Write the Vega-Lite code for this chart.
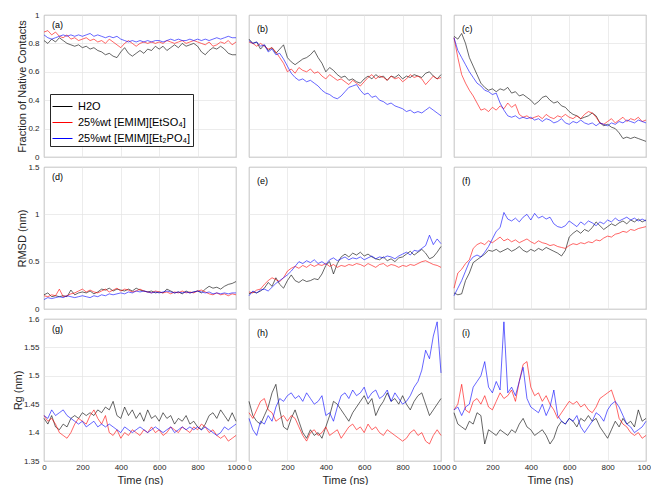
{
"$schema": "https://vega.github.io/schema/vega-lite/v6.json",
"background": "white",
"padding": {"left": 12, "top": 10, "right": 5, "bottom": 2},
"bounds": "flush",
"columns": 3,
"spacing": {"row": 10, "column": 13},
"datasets": {"d": [
{"p":"a","s":"w","t":0,"v":0.82},{"p":"a","s":"w","t":20,"v":0.80},{"p":"a","s":"w","t":40,"v":0.83},{"p":"a","s":"w","t":60,"v":0.81},{"p":"a","s":"w","t":80,"v":0.84},{"p":"a","s":"w","t":100,"v":0.82},{"p":"a","s":"w","t":120,"v":0.80},{"p":"a","s":"w","t":140,"v":0.79},{"p":"a","s":"w","t":160,"v":0.78},{"p":"a","s":"w","t":180,"v":0.79},{"p":"a","s":"w","t":200,"v":0.77},{"p":"a","s":"w","t":220,"v":0.78},{"p":"a","s":"w","t":240,"v":0.76},{"p":"a","s":"w","t":260,"v":0.77},{"p":"a","s":"w","t":280,"v":0.75},{"p":"a","s":"w","t":300,"v":0.74},{"p":"a","s":"w","t":320,"v":0.72},{"p":"a","s":"w","t":340,"v":0.73},{"p":"a","s":"w","t":360,"v":0.71},{"p":"a","s":"w","t":380,"v":0.70},{"p":"a","s":"w","t":400,"v":0.74},{"p":"a","s":"w","t":420,"v":0.77},{"p":"a","s":"w","t":440,"v":0.73},{"p":"a","s":"w","t":460,"v":0.71},{"p":"a","s":"w","t":480,"v":0.73},{"p":"a","s":"w","t":500,"v":0.75},{"p":"a","s":"w","t":520,"v":0.73},{"p":"a","s":"w","t":540,"v":0.76},{"p":"a","s":"w","t":560,"v":0.75},{"p":"a","s":"w","t":580,"v":0.78},{"p":"a","s":"w","t":600,"v":0.76},{"p":"a","s":"w","t":620,"v":0.78},{"p":"a","s":"w","t":640,"v":0.75},{"p":"a","s":"w","t":660,"v":0.77},{"p":"a","s":"w","t":680,"v":0.79},{"p":"a","s":"w","t":700,"v":0.77},{"p":"a","s":"w","t":720,"v":0.80},{"p":"a","s":"w","t":740,"v":0.78},{"p":"a","s":"w","t":760,"v":0.79},{"p":"a","s":"w","t":780,"v":0.80},{"p":"a","s":"w","t":800,"v":0.78},{"p":"a","s":"w","t":820,"v":0.74},{"p":"a","s":"w","t":840,"v":0.72},{"p":"a","s":"w","t":860,"v":0.75},{"p":"a","s":"w","t":880,"v":0.77},{"p":"a","s":"w","t":900,"v":0.76},{"p":"a","s":"w","t":920,"v":0.78},{"p":"a","s":"w","t":940,"v":0.76},{"p":"a","s":"w","t":960,"v":0.73},{"p":"a","s":"w","t":980,"v":0.72},{"p":"a","s":"w","t":1000,"v":0.72},
{"p":"a","s":"e","t":0,"v":0.88},{"p":"a","s":"e","t":20,"v":0.89},{"p":"a","s":"e","t":40,"v":0.86},{"p":"a","s":"e","t":60,"v":0.88},{"p":"a","s":"e","t":80,"v":0.85},{"p":"a","s":"e","t":100,"v":0.84},{"p":"a","s":"e","t":120,"v":0.86},{"p":"a","s":"e","t":140,"v":0.83},{"p":"a","s":"e","t":160,"v":0.84},{"p":"a","s":"e","t":180,"v":0.82},{"p":"a","s":"e","t":200,"v":0.83},{"p":"a","s":"e","t":220,"v":0.84},{"p":"a","s":"e","t":240,"v":0.82},{"p":"a","s":"e","t":260,"v":0.83},{"p":"a","s":"e","t":280,"v":0.81},{"p":"a","s":"e","t":300,"v":0.82},{"p":"a","s":"e","t":320,"v":0.80},{"p":"a","s":"e","t":340,"v":0.83},{"p":"a","s":"e","t":360,"v":0.81},{"p":"a","s":"e","t":380,"v":0.79},{"p":"a","s":"e","t":400,"v":0.77},{"p":"a","s":"e","t":420,"v":0.80},{"p":"a","s":"e","t":440,"v":0.82},{"p":"a","s":"e","t":460,"v":0.80},{"p":"a","s":"e","t":480,"v":0.78},{"p":"a","s":"e","t":500,"v":0.80},{"p":"a","s":"e","t":520,"v":0.81},{"p":"a","s":"e","t":540,"v":0.80},{"p":"a","s":"e","t":560,"v":0.81},{"p":"a","s":"e","t":580,"v":0.80},{"p":"a","s":"e","t":600,"v":0.81},{"p":"a","s":"e","t":620,"v":0.80},{"p":"a","s":"e","t":640,"v":0.82},{"p":"a","s":"e","t":660,"v":0.81},{"p":"a","s":"e","t":680,"v":0.80},{"p":"a","s":"e","t":700,"v":0.81},{"p":"a","s":"e","t":720,"v":0.82},{"p":"a","s":"e","t":740,"v":0.80},{"p":"a","s":"e","t":760,"v":0.81},{"p":"a","s":"e","t":780,"v":0.82},{"p":"a","s":"e","t":800,"v":0.81},{"p":"a","s":"e","t":820,"v":0.80},{"p":"a","s":"e","t":840,"v":0.79},{"p":"a","s":"e","t":860,"v":0.81},{"p":"a","s":"e","t":880,"v":0.78},{"p":"a","s":"e","t":900,"v":0.79},{"p":"a","s":"e","t":920,"v":0.81},{"p":"a","s":"e","t":940,"v":0.80},{"p":"a","s":"e","t":960,"v":0.82},{"p":"a","s":"e","t":980,"v":0.79},{"p":"a","s":"e","t":1000,"v":0.81},
{"p":"a","s":"b","t":0,"v":0.86},{"p":"a","s":"b","t":20,"v":0.84},{"p":"a","s":"b","t":40,"v":0.83},{"p":"a","s":"b","t":60,"v":0.84},{"p":"a","s":"b","t":80,"v":0.85},{"p":"a","s":"b","t":100,"v":0.86},{"p":"a","s":"b","t":120,"v":0.85},{"p":"a","s":"b","t":140,"v":0.86},{"p":"a","s":"b","t":160,"v":0.85},{"p":"a","s":"b","t":180,"v":0.86},{"p":"a","s":"b","t":200,"v":0.85},{"p":"a","s":"b","t":220,"v":0.86},{"p":"a","s":"b","t":240,"v":0.87},{"p":"a","s":"b","t":260,"v":0.85},{"p":"a","s":"b","t":280,"v":0.86},{"p":"a","s":"b","t":300,"v":0.85},{"p":"a","s":"b","t":320,"v":0.84},{"p":"a","s":"b","t":340,"v":0.85},{"p":"a","s":"b","t":360,"v":0.84},{"p":"a","s":"b","t":380,"v":0.85},{"p":"a","s":"b","t":400,"v":0.83},{"p":"a","s":"b","t":420,"v":0.82},{"p":"a","s":"b","t":440,"v":0.81},{"p":"a","s":"b","t":460,"v":0.82},{"p":"a","s":"b","t":480,"v":0.81},{"p":"a","s":"b","t":500,"v":0.82},{"p":"a","s":"b","t":520,"v":0.81},{"p":"a","s":"b","t":540,"v":0.82},{"p":"a","s":"b","t":560,"v":0.81},{"p":"a","s":"b","t":580,"v":0.82},{"p":"a","s":"b","t":600,"v":0.82},{"p":"a","s":"b","t":620,"v":0.81},{"p":"a","s":"b","t":640,"v":0.82},{"p":"a","s":"b","t":660,"v":0.83},{"p":"a","s":"b","t":680,"v":0.82},{"p":"a","s":"b","t":700,"v":0.83},{"p":"a","s":"b","t":720,"v":0.82},{"p":"a","s":"b","t":740,"v":0.82},{"p":"a","s":"b","t":760,"v":0.83},{"p":"a","s":"b","t":780,"v":0.82},{"p":"a","s":"b","t":800,"v":0.83},{"p":"a","s":"b","t":820,"v":0.82},{"p":"a","s":"b","t":840,"v":0.83},{"p":"a","s":"b","t":860,"v":0.82},{"p":"a","s":"b","t":880,"v":0.83},{"p":"a","s":"b","t":900,"v":0.84},{"p":"a","s":"b","t":920,"v":0.83},{"p":"a","s":"b","t":940,"v":0.84},{"p":"a","s":"b","t":960,"v":0.85},{"p":"a","s":"b","t":980,"v":0.84},{"p":"a","s":"b","t":1000,"v":0.84},
{"p":"b","s":"w","t":0,"v":0.83},{"p":"b","s":"w","t":20,"v":0.80},{"p":"b","s":"w","t":40,"v":0.81},{"p":"b","s":"w","t":60,"v":0.76},{"p":"b","s":"w","t":80,"v":0.79},{"p":"b","s":"w","t":100,"v":0.75},{"p":"b","s":"w","t":120,"v":0.77},{"p":"b","s":"w","t":140,"v":0.73},{"p":"b","s":"w","t":160,"v":0.76},{"p":"b","s":"w","t":180,"v":0.79},{"p":"b","s":"w","t":200,"v":0.70},{"p":"b","s":"w","t":220,"v":0.67},{"p":"b","s":"w","t":240,"v":0.65},{"p":"b","s":"w","t":260,"v":0.67},{"p":"b","s":"w","t":280,"v":0.69},{"p":"b","s":"w","t":300,"v":0.70},{"p":"b","s":"w","t":320,"v":0.72},{"p":"b","s":"w","t":340,"v":0.75},{"p":"b","s":"w","t":360,"v":0.70},{"p":"b","s":"w","t":380,"v":0.66},{"p":"b","s":"w","t":400,"v":0.60},{"p":"b","s":"w","t":420,"v":0.63},{"p":"b","s":"w","t":440,"v":0.61},{"p":"b","s":"w","t":460,"v":0.58},{"p":"b","s":"w","t":480,"v":0.56},{"p":"b","s":"w","t":500,"v":0.57},{"p":"b","s":"w","t":520,"v":0.54},{"p":"b","s":"w","t":540,"v":0.55},{"p":"b","s":"w","t":560,"v":0.53},{"p":"b","s":"w","t":580,"v":0.52},{"p":"b","s":"w","t":600,"v":0.55},{"p":"b","s":"w","t":620,"v":0.57},{"p":"b","s":"w","t":640,"v":0.55},{"p":"b","s":"w","t":660,"v":0.58},{"p":"b","s":"w","t":680,"v":0.56},{"p":"b","s":"w","t":700,"v":0.57},{"p":"b","s":"w","t":720,"v":0.54},{"p":"b","s":"w","t":740,"v":0.57},{"p":"b","s":"w","t":760,"v":0.56},{"p":"b","s":"w","t":780,"v":0.58},{"p":"b","s":"w","t":800,"v":0.55},{"p":"b","s":"w","t":820,"v":0.57},{"p":"b","s":"w","t":840,"v":0.56},{"p":"b","s":"w","t":860,"v":0.58},{"p":"b","s":"w","t":880,"v":0.57},{"p":"b","s":"w","t":900,"v":0.56},{"p":"b","s":"w","t":920,"v":0.59},{"p":"b","s":"w","t":940,"v":0.60},{"p":"b","s":"w","t":960,"v":0.57},{"p":"b","s":"w","t":980,"v":0.55},{"p":"b","s":"w","t":1000,"v":0.58},
{"p":"b","s":"e","t":0,"v":0.81},{"p":"b","s":"e","t":20,"v":0.80},{"p":"b","s":"e","t":40,"v":0.78},{"p":"b","s":"e","t":60,"v":0.80},{"p":"b","s":"e","t":80,"v":0.78},{"p":"b","s":"e","t":100,"v":0.76},{"p":"b","s":"e","t":120,"v":0.77},{"p":"b","s":"e","t":140,"v":0.74},{"p":"b","s":"e","t":160,"v":0.70},{"p":"b","s":"e","t":180,"v":0.66},{"p":"b","s":"e","t":200,"v":0.60},{"p":"b","s":"e","t":220,"v":0.62},{"p":"b","s":"e","t":240,"v":0.59},{"p":"b","s":"e","t":260,"v":0.63},{"p":"b","s":"e","t":280,"v":0.61},{"p":"b","s":"e","t":300,"v":0.60},{"p":"b","s":"e","t":320,"v":0.62},{"p":"b","s":"e","t":340,"v":0.59},{"p":"b","s":"e","t":360,"v":0.60},{"p":"b","s":"e","t":380,"v":0.57},{"p":"b","s":"e","t":400,"v":0.55},{"p":"b","s":"e","t":420,"v":0.58},{"p":"b","s":"e","t":440,"v":0.56},{"p":"b","s":"e","t":460,"v":0.54},{"p":"b","s":"e","t":480,"v":0.55},{"p":"b","s":"e","t":500,"v":0.53},{"p":"b","s":"e","t":520,"v":0.51},{"p":"b","s":"e","t":540,"v":0.54},{"p":"b","s":"e","t":560,"v":0.52},{"p":"b","s":"e","t":580,"v":0.50},{"p":"b","s":"e","t":600,"v":0.53},{"p":"b","s":"e","t":620,"v":0.56},{"p":"b","s":"e","t":640,"v":0.58},{"p":"b","s":"e","t":660,"v":0.55},{"p":"b","s":"e","t":680,"v":0.57},{"p":"b","s":"e","t":700,"v":0.56},{"p":"b","s":"e","t":720,"v":0.54},{"p":"b","s":"e","t":740,"v":0.57},{"p":"b","s":"e","t":760,"v":0.55},{"p":"b","s":"e","t":780,"v":0.56},{"p":"b","s":"e","t":800,"v":0.53},{"p":"b","s":"e","t":820,"v":0.55},{"p":"b","s":"e","t":840,"v":0.58},{"p":"b","s":"e","t":860,"v":0.56},{"p":"b","s":"e","t":880,"v":0.57},{"p":"b","s":"e","t":900,"v":0.55},{"p":"b","s":"e","t":920,"v":0.51},{"p":"b","s":"e","t":940,"v":0.54},{"p":"b","s":"e","t":960,"v":0.57},{"p":"b","s":"e","t":980,"v":0.55},{"p":"b","s":"e","t":1000,"v":0.56},
{"p":"b","s":"b","t":0,"v":0.82},{"p":"b","s":"b","t":20,"v":0.80},{"p":"b","s":"b","t":40,"v":0.81},{"p":"b","s":"b","t":60,"v":0.78},{"p":"b","s":"b","t":80,"v":0.79},{"p":"b","s":"b","t":100,"v":0.74},{"p":"b","s":"b","t":120,"v":0.76},{"p":"b","s":"b","t":140,"v":0.72},{"p":"b","s":"b","t":160,"v":0.73},{"p":"b","s":"b","t":180,"v":0.69},{"p":"b","s":"b","t":200,"v":0.64},{"p":"b","s":"b","t":220,"v":0.59},{"p":"b","s":"b","t":240,"v":0.56},{"p":"b","s":"b","t":260,"v":0.54},{"p":"b","s":"b","t":280,"v":0.55},{"p":"b","s":"b","t":300,"v":0.53},{"p":"b","s":"b","t":320,"v":0.54},{"p":"b","s":"b","t":340,"v":0.52},{"p":"b","s":"b","t":360,"v":0.50},{"p":"b","s":"b","t":380,"v":0.47},{"p":"b","s":"b","t":400,"v":0.45},{"p":"b","s":"b","t":420,"v":0.44},{"p":"b","s":"b","t":440,"v":0.42},{"p":"b","s":"b","t":460,"v":0.41},{"p":"b","s":"b","t":480,"v":0.43},{"p":"b","s":"b","t":500,"v":0.46},{"p":"b","s":"b","t":520,"v":0.49},{"p":"b","s":"b","t":540,"v":0.50},{"p":"b","s":"b","t":560,"v":0.51},{"p":"b","s":"b","t":580,"v":0.47},{"p":"b","s":"b","t":600,"v":0.44},{"p":"b","s":"b","t":620,"v":0.45},{"p":"b","s":"b","t":640,"v":0.42},{"p":"b","s":"b","t":660,"v":0.43},{"p":"b","s":"b","t":680,"v":0.40},{"p":"b","s":"b","t":700,"v":0.39},{"p":"b","s":"b","t":720,"v":0.37},{"p":"b","s":"b","t":740,"v":0.38},{"p":"b","s":"b","t":760,"v":0.36},{"p":"b","s":"b","t":780,"v":0.35},{"p":"b","s":"b","t":800,"v":0.34},{"p":"b","s":"b","t":820,"v":0.32},{"p":"b","s":"b","t":840,"v":0.33},{"p":"b","s":"b","t":860,"v":0.31},{"p":"b","s":"b","t":880,"v":0.32},{"p":"b","s":"b","t":900,"v":0.31},{"p":"b","s":"b","t":920,"v":0.33},{"p":"b","s":"b","t":940,"v":0.35},{"p":"b","s":"b","t":960,"v":0.33},{"p":"b","s":"b","t":980,"v":0.31},{"p":"b","s":"b","t":1000,"v":0.29},
{"p":"c","s":"w","t":0,"v":0.85},{"p":"c","s":"w","t":20,"v":0.83},{"p":"c","s":"w","t":40,"v":0.87},{"p":"c","s":"w","t":60,"v":0.80},{"p":"c","s":"w","t":80,"v":0.70},{"p":"c","s":"w","t":100,"v":0.64},{"p":"c","s":"w","t":120,"v":0.58},{"p":"c","s":"w","t":140,"v":0.52},{"p":"c","s":"w","t":160,"v":0.49},{"p":"c","s":"w","t":180,"v":0.47},{"p":"c","s":"w","t":200,"v":0.48},{"p":"c","s":"w","t":220,"v":0.46},{"p":"c","s":"w","t":240,"v":0.48},{"p":"c","s":"w","t":260,"v":0.47},{"p":"c","s":"w","t":280,"v":0.49},{"p":"c","s":"w","t":300,"v":0.45},{"p":"c","s":"w","t":320,"v":0.46},{"p":"c","s":"w","t":340,"v":0.43},{"p":"c","s":"w","t":360,"v":0.44},{"p":"c","s":"w","t":380,"v":0.42},{"p":"c","s":"w","t":400,"v":0.40},{"p":"c","s":"w","t":420,"v":0.37},{"p":"c","s":"w","t":440,"v":0.39},{"p":"c","s":"w","t":460,"v":0.42},{"p":"c","s":"w","t":480,"v":0.43},{"p":"c","s":"w","t":500,"v":0.40},{"p":"c","s":"w","t":520,"v":0.38},{"p":"c","s":"w","t":540,"v":0.39},{"p":"c","s":"w","t":560,"v":0.36},{"p":"c","s":"w","t":580,"v":0.35},{"p":"c","s":"w","t":600,"v":0.32},{"p":"c","s":"w","t":620,"v":0.30},{"p":"c","s":"w","t":640,"v":0.29},{"p":"c","s":"w","t":660,"v":0.27},{"p":"c","s":"w","t":680,"v":0.28},{"p":"c","s":"w","t":700,"v":0.29},{"p":"c","s":"w","t":720,"v":0.31},{"p":"c","s":"w","t":740,"v":0.29},{"p":"c","s":"w","t":760,"v":0.24},{"p":"c","s":"w","t":780,"v":0.22},{"p":"c","s":"w","t":800,"v":0.23},{"p":"c","s":"w","t":820,"v":0.21},{"p":"c","s":"w","t":840,"v":0.20},{"p":"c","s":"w","t":860,"v":0.17},{"p":"c","s":"w","t":880,"v":0.13},{"p":"c","s":"w","t":900,"v":0.14},{"p":"c","s":"w","t":920,"v":0.13},{"p":"c","s":"w","t":940,"v":0.14},{"p":"c","s":"w","t":960,"v":0.13},{"p":"c","s":"w","t":980,"v":0.12},{"p":"c","s":"w","t":1000,"v":0.11},
{"p":"c","s":"e","t":0,"v":0.84},{"p":"c","s":"e","t":20,"v":0.70},{"p":"c","s":"e","t":40,"v":0.58},{"p":"c","s":"e","t":60,"v":0.52},{"p":"c","s":"e","t":80,"v":0.47},{"p":"c","s":"e","t":100,"v":0.43},{"p":"c","s":"e","t":120,"v":0.38},{"p":"c","s":"e","t":140,"v":0.33},{"p":"c","s":"e","t":160,"v":0.34},{"p":"c","s":"e","t":180,"v":0.32},{"p":"c","s":"e","t":200,"v":0.35},{"p":"c","s":"e","t":220,"v":0.33},{"p":"c","s":"e","t":240,"v":0.36},{"p":"c","s":"e","t":260,"v":0.34},{"p":"c","s":"e","t":280,"v":0.38},{"p":"c","s":"e","t":300,"v":0.35},{"p":"c","s":"e","t":320,"v":0.37},{"p":"c","s":"e","t":340,"v":0.30},{"p":"c","s":"e","t":360,"v":0.28},{"p":"c","s":"e","t":380,"v":0.29},{"p":"c","s":"e","t":400,"v":0.27},{"p":"c","s":"e","t":420,"v":0.28},{"p":"c","s":"e","t":440,"v":0.29},{"p":"c","s":"e","t":460,"v":0.27},{"p":"c","s":"e","t":480,"v":0.30},{"p":"c","s":"e","t":500,"v":0.28},{"p":"c","s":"e","t":520,"v":0.27},{"p":"c","s":"e","t":540,"v":0.29},{"p":"c","s":"e","t":560,"v":0.28},{"p":"c","s":"e","t":580,"v":0.30},{"p":"c","s":"e","t":600,"v":0.28},{"p":"c","s":"e","t":620,"v":0.27},{"p":"c","s":"e","t":640,"v":0.29},{"p":"c","s":"e","t":660,"v":0.27},{"p":"c","s":"e","t":680,"v":0.30},{"p":"c","s":"e","t":700,"v":0.32},{"p":"c","s":"e","t":720,"v":0.31},{"p":"c","s":"e","t":740,"v":0.28},{"p":"c","s":"e","t":760,"v":0.24},{"p":"c","s":"e","t":780,"v":0.23},{"p":"c","s":"e","t":800,"v":0.25},{"p":"c","s":"e","t":820,"v":0.27},{"p":"c","s":"e","t":840,"v":0.24},{"p":"c","s":"e","t":860,"v":0.26},{"p":"c","s":"e","t":880,"v":0.28},{"p":"c","s":"e","t":900,"v":0.25},{"p":"c","s":"e","t":920,"v":0.27},{"p":"c","s":"e","t":940,"v":0.26},{"p":"c","s":"e","t":960,"v":0.28},{"p":"c","s":"e","t":980,"v":0.25},{"p":"c","s":"e","t":1000,"v":0.26},
{"p":"c","s":"b","t":0,"v":0.84},{"p":"c","s":"b","t":20,"v":0.75},{"p":"c","s":"b","t":40,"v":0.70},{"p":"c","s":"b","t":60,"v":0.65},{"p":"c","s":"b","t":80,"v":0.60},{"p":"c","s":"b","t":100,"v":0.56},{"p":"c","s":"b","t":120,"v":0.52},{"p":"c","s":"b","t":140,"v":0.50},{"p":"c","s":"b","t":160,"v":0.47},{"p":"c","s":"b","t":180,"v":0.46},{"p":"c","s":"b","t":200,"v":0.44},{"p":"c","s":"b","t":220,"v":0.45},{"p":"c","s":"b","t":240,"v":0.38},{"p":"c","s":"b","t":260,"v":0.33},{"p":"c","s":"b","t":280,"v":0.29},{"p":"c","s":"b","t":300,"v":0.28},{"p":"c","s":"b","t":320,"v":0.29},{"p":"c","s":"b","t":340,"v":0.27},{"p":"c","s":"b","t":360,"v":0.28},{"p":"c","s":"b","t":380,"v":0.27},{"p":"c","s":"b","t":400,"v":0.28},{"p":"c","s":"b","t":420,"v":0.26},{"p":"c","s":"b","t":440,"v":0.27},{"p":"c","s":"b","t":460,"v":0.25},{"p":"c","s":"b","t":480,"v":0.27},{"p":"c","s":"b","t":500,"v":0.26},{"p":"c","s":"b","t":520,"v":0.24},{"p":"c","s":"b","t":540,"v":0.25},{"p":"c","s":"b","t":560,"v":0.27},{"p":"c","s":"b","t":580,"v":0.24},{"p":"c","s":"b","t":600,"v":0.23},{"p":"c","s":"b","t":620,"v":0.25},{"p":"c","s":"b","t":640,"v":0.24},{"p":"c","s":"b","t":660,"v":0.26},{"p":"c","s":"b","t":680,"v":0.24},{"p":"c","s":"b","t":700,"v":0.23},{"p":"c","s":"b","t":720,"v":0.24},{"p":"c","s":"b","t":740,"v":0.22},{"p":"c","s":"b","t":760,"v":0.24},{"p":"c","s":"b","t":780,"v":0.23},{"p":"c","s":"b","t":800,"v":0.22},{"p":"c","s":"b","t":820,"v":0.24},{"p":"c","s":"b","t":840,"v":0.23},{"p":"c","s":"b","t":860,"v":0.25},{"p":"c","s":"b","t":880,"v":0.24},{"p":"c","s":"b","t":900,"v":0.26},{"p":"c","s":"b","t":920,"v":0.25},{"p":"c","s":"b","t":940,"v":0.24},{"p":"c","s":"b","t":960,"v":0.26},{"p":"c","s":"b","t":980,"v":0.25},{"p":"c","s":"b","t":1000,"v":0.24},
{"p":"d","s":"w","t":0,"v":0.15},{"p":"d","s":"w","t":20,"v":0.17},{"p":"d","s":"w","t":40,"v":0.13},{"p":"d","s":"w","t":60,"v":0.14},{"p":"d","s":"w","t":80,"v":0.13},{"p":"d","s":"w","t":100,"v":0.14},{"p":"d","s":"w","t":120,"v":0.13},{"p":"d","s":"w","t":140,"v":0.20},{"p":"d","s":"w","t":160,"v":0.15},{"p":"d","s":"w","t":180,"v":0.17},{"p":"d","s":"w","t":200,"v":0.18},{"p":"d","s":"w","t":220,"v":0.17},{"p":"d","s":"w","t":240,"v":0.19},{"p":"d","s":"w","t":260,"v":0.16},{"p":"d","s":"w","t":280,"v":0.18},{"p":"d","s":"w","t":300,"v":0.21},{"p":"d","s":"w","t":320,"v":0.20},{"p":"d","s":"w","t":340,"v":0.22},{"p":"d","s":"w","t":360,"v":0.19},{"p":"d","s":"w","t":380,"v":0.21},{"p":"d","s":"w","t":400,"v":0.20},{"p":"d","s":"w","t":420,"v":0.19},{"p":"d","s":"w","t":440,"v":0.21},{"p":"d","s":"w","t":460,"v":0.19},{"p":"d","s":"w","t":480,"v":0.22},{"p":"d","s":"w","t":500,"v":0.20},{"p":"d","s":"w","t":520,"v":0.19},{"p":"d","s":"w","t":540,"v":0.18},{"p":"d","s":"w","t":560,"v":0.19},{"p":"d","s":"w","t":580,"v":0.17},{"p":"d","s":"w","t":600,"v":0.18},{"p":"d","s":"w","t":620,"v":0.17},{"p":"d","s":"w","t":640,"v":0.21},{"p":"d","s":"w","t":660,"v":0.19},{"p":"d","s":"w","t":680,"v":0.17},{"p":"d","s":"w","t":700,"v":0.18},{"p":"d","s":"w","t":720,"v":0.16},{"p":"d","s":"w","t":740,"v":0.19},{"p":"d","s":"w","t":760,"v":0.17},{"p":"d","s":"w","t":780,"v":0.18},{"p":"d","s":"w","t":800,"v":0.19},{"p":"d","s":"w","t":820,"v":0.17},{"p":"d","s":"w","t":840,"v":0.21},{"p":"d","s":"w","t":860,"v":0.24},{"p":"d","s":"w","t":880,"v":0.22},{"p":"d","s":"w","t":900,"v":0.23},{"p":"d","s":"w","t":920,"v":0.21},{"p":"d","s":"w","t":940,"v":0.24},{"p":"d","s":"w","t":960,"v":0.26},{"p":"d","s":"w","t":980,"v":0.27},{"p":"d","s":"w","t":1000,"v":0.29},
{"p":"d","s":"e","t":0,"v":0.14},{"p":"d","s":"e","t":20,"v":0.13},{"p":"d","s":"e","t":40,"v":0.15},{"p":"d","s":"e","t":60,"v":0.14},{"p":"d","s":"e","t":80,"v":0.21},{"p":"d","s":"e","t":100,"v":0.13},{"p":"d","s":"e","t":120,"v":0.14},{"p":"d","s":"e","t":140,"v":0.16},{"p":"d","s":"e","t":160,"v":0.17},{"p":"d","s":"e","t":180,"v":0.19},{"p":"d","s":"e","t":200,"v":0.21},{"p":"d","s":"e","t":220,"v":0.18},{"p":"d","s":"e","t":240,"v":0.20},{"p":"d","s":"e","t":260,"v":0.18},{"p":"d","s":"e","t":280,"v":0.17},{"p":"d","s":"e","t":300,"v":0.19},{"p":"d","s":"e","t":320,"v":0.21},{"p":"d","s":"e","t":340,"v":0.18},{"p":"d","s":"e","t":360,"v":0.20},{"p":"d","s":"e","t":380,"v":0.22},{"p":"d","s":"e","t":400,"v":0.19},{"p":"d","s":"e","t":420,"v":0.21},{"p":"d","s":"e","t":440,"v":0.20},{"p":"d","s":"e","t":460,"v":0.18},{"p":"d","s":"e","t":480,"v":0.19},{"p":"d","s":"e","t":500,"v":0.21},{"p":"d","s":"e","t":520,"v":0.19},{"p":"d","s":"e","t":540,"v":0.18},{"p":"d","s":"e","t":560,"v":0.17},{"p":"d","s":"e","t":580,"v":0.19},{"p":"d","s":"e","t":600,"v":0.18},{"p":"d","s":"e","t":620,"v":0.17},{"p":"d","s":"e","t":640,"v":0.18},{"p":"d","s":"e","t":660,"v":0.16},{"p":"d","s":"e","t":680,"v":0.18},{"p":"d","s":"e","t":700,"v":0.17},{"p":"d","s":"e","t":720,"v":0.19},{"p":"d","s":"e","t":740,"v":0.17},{"p":"d","s":"e","t":760,"v":0.18},{"p":"d","s":"e","t":780,"v":0.17},{"p":"d","s":"e","t":800,"v":0.19},{"p":"d","s":"e","t":820,"v":0.20},{"p":"d","s":"e","t":840,"v":0.18},{"p":"d","s":"e","t":860,"v":0.16},{"p":"d","s":"e","t":880,"v":0.15},{"p":"d","s":"e","t":900,"v":0.17},{"p":"d","s":"e","t":920,"v":0.15},{"p":"d","s":"e","t":940,"v":0.16},{"p":"d","s":"e","t":960,"v":0.14},{"p":"d","s":"e","t":980,"v":0.16},{"p":"d","s":"e","t":1000,"v":0.15},
{"p":"d","s":"b","t":0,"v":0.10},{"p":"d","s":"b","t":20,"v":0.12},{"p":"d","s":"b","t":40,"v":0.11},{"p":"d","s":"b","t":60,"v":0.12},{"p":"d","s":"b","t":80,"v":0.13},{"p":"d","s":"b","t":100,"v":0.12},{"p":"d","s":"b","t":120,"v":0.14},{"p":"d","s":"b","t":140,"v":0.13},{"p":"d","s":"b","t":160,"v":0.12},{"p":"d","s":"b","t":180,"v":0.13},{"p":"d","s":"b","t":200,"v":0.14},{"p":"d","s":"b","t":220,"v":0.13},{"p":"d","s":"b","t":240,"v":0.12},{"p":"d","s":"b","t":260,"v":0.14},{"p":"d","s":"b","t":280,"v":0.13},{"p":"d","s":"b","t":300,"v":0.15},{"p":"d","s":"b","t":320,"v":0.14},{"p":"d","s":"b","t":340,"v":0.16},{"p":"d","s":"b","t":360,"v":0.15},{"p":"d","s":"b","t":380,"v":0.16},{"p":"d","s":"b","t":400,"v":0.17},{"p":"d","s":"b","t":420,"v":0.16},{"p":"d","s":"b","t":440,"v":0.18},{"p":"d","s":"b","t":460,"v":0.17},{"p":"d","s":"b","t":480,"v":0.19},{"p":"d","s":"b","t":500,"v":0.18},{"p":"d","s":"b","t":520,"v":0.19},{"p":"d","s":"b","t":540,"v":0.18},{"p":"d","s":"b","t":560,"v":0.17},{"p":"d","s":"b","t":580,"v":0.18},{"p":"d","s":"b","t":600,"v":0.17},{"p":"d","s":"b","t":620,"v":0.18},{"p":"d","s":"b","t":640,"v":0.19},{"p":"d","s":"b","t":660,"v":0.18},{"p":"d","s":"b","t":680,"v":0.17},{"p":"d","s":"b","t":700,"v":0.18},{"p":"d","s":"b","t":720,"v":0.17},{"p":"d","s":"b","t":740,"v":0.18},{"p":"d","s":"b","t":760,"v":0.17},{"p":"d","s":"b","t":780,"v":0.18},{"p":"d","s":"b","t":800,"v":0.19},{"p":"d","s":"b","t":820,"v":0.18},{"p":"d","s":"b","t":840,"v":0.17},{"p":"d","s":"b","t":860,"v":0.18},{"p":"d","s":"b","t":880,"v":0.16},{"p":"d","s":"b","t":900,"v":0.17},{"p":"d","s":"b","t":920,"v":0.16},{"p":"d","s":"b","t":940,"v":0.17},{"p":"d","s":"b","t":960,"v":0.16},{"p":"d","s":"b","t":980,"v":0.17},{"p":"d","s":"b","t":1000,"v":0.17},
{"p":"e","s":"w","t":0,"v":0.16},{"p":"e","s":"w","t":20,"v":0.18},{"p":"e","s":"w","t":40,"v":0.17},{"p":"e","s":"w","t":60,"v":0.19},{"p":"e","s":"w","t":80,"v":0.22},{"p":"e","s":"w","t":100,"v":0.28},{"p":"e","s":"w","t":120,"v":0.24},{"p":"e","s":"w","t":140,"v":0.33},{"p":"e","s":"w","t":160,"v":0.26},{"p":"e","s":"w","t":180,"v":0.22},{"p":"e","s":"w","t":200,"v":0.30},{"p":"e","s":"w","t":220,"v":0.36},{"p":"e","s":"w","t":240,"v":0.30},{"p":"e","s":"w","t":260,"v":0.28},{"p":"e","s":"w","t":280,"v":0.31},{"p":"e","s":"w","t":300,"v":0.29},{"p":"e","s":"w","t":320,"v":0.30},{"p":"e","s":"w","t":340,"v":0.32},{"p":"e","s":"w","t":360,"v":0.31},{"p":"e","s":"w","t":380,"v":0.37},{"p":"e","s":"w","t":400,"v":0.46},{"p":"e","s":"w","t":420,"v":0.50},{"p":"e","s":"w","t":440,"v":0.37},{"p":"e","s":"w","t":460,"v":0.48},{"p":"e","s":"w","t":480,"v":0.55},{"p":"e","s":"w","t":500,"v":0.58},{"p":"e","s":"w","t":520,"v":0.55},{"p":"e","s":"w","t":540,"v":0.59},{"p":"e","s":"w","t":560,"v":0.57},{"p":"e","s":"w","t":580,"v":0.60},{"p":"e","s":"w","t":600,"v":0.56},{"p":"e","s":"w","t":620,"v":0.58},{"p":"e","s":"w","t":640,"v":0.55},{"p":"e","s":"w","t":660,"v":0.53},{"p":"e","s":"w","t":680,"v":0.52},{"p":"e","s":"w","t":700,"v":0.55},{"p":"e","s":"w","t":720,"v":0.51},{"p":"e","s":"w","t":740,"v":0.53},{"p":"e","s":"w","t":760,"v":0.50},{"p":"e","s":"w","t":780,"v":0.54},{"p":"e","s":"w","t":800,"v":0.55},{"p":"e","s":"w","t":820,"v":0.58},{"p":"e","s":"w","t":840,"v":0.61},{"p":"e","s":"w","t":860,"v":0.57},{"p":"e","s":"w","t":880,"v":0.60},{"p":"e","s":"w","t":900,"v":0.63},{"p":"e","s":"w","t":920,"v":0.59},{"p":"e","s":"w","t":940,"v":0.53},{"p":"e","s":"w","t":960,"v":0.55},{"p":"e","s":"w","t":980,"v":0.60},{"p":"e","s":"w","t":1000,"v":0.66},
{"p":"e","s":"e","t":0,"v":0.18},{"p":"e","s":"e","t":20,"v":0.17},{"p":"e","s":"e","t":40,"v":0.20},{"p":"e","s":"e","t":60,"v":0.21},{"p":"e","s":"e","t":80,"v":0.26},{"p":"e","s":"e","t":100,"v":0.30},{"p":"e","s":"e","t":120,"v":0.33},{"p":"e","s":"e","t":140,"v":0.31},{"p":"e","s":"e","t":160,"v":0.29},{"p":"e","s":"e","t":180,"v":0.33},{"p":"e","s":"e","t":200,"v":0.40},{"p":"e","s":"e","t":220,"v":0.43},{"p":"e","s":"e","t":240,"v":0.45},{"p":"e","s":"e","t":260,"v":0.43},{"p":"e","s":"e","t":280,"v":0.46},{"p":"e","s":"e","t":300,"v":0.44},{"p":"e","s":"e","t":320,"v":0.47},{"p":"e","s":"e","t":340,"v":0.45},{"p":"e","s":"e","t":360,"v":0.47},{"p":"e","s":"e","t":380,"v":0.46},{"p":"e","s":"e","t":400,"v":0.48},{"p":"e","s":"e","t":420,"v":0.45},{"p":"e","s":"e","t":440,"v":0.47},{"p":"e","s":"e","t":460,"v":0.44},{"p":"e","s":"e","t":480,"v":0.46},{"p":"e","s":"e","t":500,"v":0.45},{"p":"e","s":"e","t":520,"v":0.47},{"p":"e","s":"e","t":540,"v":0.46},{"p":"e","s":"e","t":560,"v":0.48},{"p":"e","s":"e","t":580,"v":0.47},{"p":"e","s":"e","t":600,"v":0.45},{"p":"e","s":"e","t":620,"v":0.48},{"p":"e","s":"e","t":640,"v":0.46},{"p":"e","s":"e","t":660,"v":0.44},{"p":"e","s":"e","t":680,"v":0.47},{"p":"e","s":"e","t":700,"v":0.48},{"p":"e","s":"e","t":720,"v":0.45},{"p":"e","s":"e","t":740,"v":0.47},{"p":"e","s":"e","t":760,"v":0.46},{"p":"e","s":"e","t":780,"v":0.44},{"p":"e","s":"e","t":800,"v":0.46},{"p":"e","s":"e","t":820,"v":0.45},{"p":"e","s":"e","t":840,"v":0.47},{"p":"e","s":"e","t":860,"v":0.46},{"p":"e","s":"e","t":880,"v":0.48},{"p":"e","s":"e","t":900,"v":0.50},{"p":"e","s":"e","t":920,"v":0.51},{"p":"e","s":"e","t":940,"v":0.49},{"p":"e","s":"e","t":960,"v":0.47},{"p":"e","s":"e","t":980,"v":0.46},{"p":"e","s":"e","t":1000,"v":0.44},
{"p":"e","s":"b","t":0,"v":0.14},{"p":"e","s":"b","t":20,"v":0.19},{"p":"e","s":"b","t":40,"v":0.17},{"p":"e","s":"b","t":60,"v":0.20},{"p":"e","s":"b","t":80,"v":0.21},{"p":"e","s":"b","t":100,"v":0.19},{"p":"e","s":"b","t":120,"v":0.23},{"p":"e","s":"b","t":140,"v":0.27},{"p":"e","s":"b","t":160,"v":0.30},{"p":"e","s":"b","t":180,"v":0.33},{"p":"e","s":"b","t":200,"v":0.36},{"p":"e","s":"b","t":220,"v":0.40},{"p":"e","s":"b","t":240,"v":0.45},{"p":"e","s":"b","t":260,"v":0.50},{"p":"e","s":"b","t":280,"v":0.48},{"p":"e","s":"b","t":300,"v":0.51},{"p":"e","s":"b","t":320,"v":0.49},{"p":"e","s":"b","t":340,"v":0.52},{"p":"e","s":"b","t":360,"v":0.48},{"p":"e","s":"b","t":380,"v":0.50},{"p":"e","s":"b","t":400,"v":0.47},{"p":"e","s":"b","t":420,"v":0.52},{"p":"e","s":"b","t":440,"v":0.54},{"p":"e","s":"b","t":460,"v":0.51},{"p":"e","s":"b","t":480,"v":0.53},{"p":"e","s":"b","t":500,"v":0.55},{"p":"e","s":"b","t":520,"v":0.52},{"p":"e","s":"b","t":540,"v":0.54},{"p":"e","s":"b","t":560,"v":0.53},{"p":"e","s":"b","t":580,"v":0.55},{"p":"e","s":"b","t":600,"v":0.52},{"p":"e","s":"b","t":620,"v":0.54},{"p":"e","s":"b","t":640,"v":0.56},{"p":"e","s":"b","t":660,"v":0.53},{"p":"e","s":"b","t":680,"v":0.55},{"p":"e","s":"b","t":700,"v":0.54},{"p":"e","s":"b","t":720,"v":0.56},{"p":"e","s":"b","t":740,"v":0.55},{"p":"e","s":"b","t":760,"v":0.53},{"p":"e","s":"b","t":780,"v":0.56},{"p":"e","s":"b","t":800,"v":0.58},{"p":"e","s":"b","t":820,"v":0.60},{"p":"e","s":"b","t":840,"v":0.57},{"p":"e","s":"b","t":860,"v":0.62},{"p":"e","s":"b","t":880,"v":0.61},{"p":"e","s":"b","t":900,"v":0.64},{"p":"e","s":"b","t":920,"v":0.67},{"p":"e","s":"b","t":940,"v":0.78},{"p":"e","s":"b","t":960,"v":0.68},{"p":"e","s":"b","t":980,"v":0.74},{"p":"e","s":"b","t":1000,"v":0.69},
{"p":"f","s":"w","t":0,"v":0.17},{"p":"f","s":"w","t":20,"v":0.15},{"p":"f","s":"w","t":40,"v":0.16},{"p":"f","s":"w","t":60,"v":0.30},{"p":"f","s":"w","t":80,"v":0.38},{"p":"f","s":"w","t":100,"v":0.49},{"p":"f","s":"w","t":120,"v":0.52},{"p":"f","s":"w","t":140,"v":0.55},{"p":"f","s":"w","t":160,"v":0.58},{"p":"f","s":"w","t":180,"v":0.62},{"p":"f","s":"w","t":200,"v":0.61},{"p":"f","s":"w","t":220,"v":0.63},{"p":"f","s":"w","t":240,"v":0.60},{"p":"f","s":"w","t":260,"v":0.62},{"p":"f","s":"w","t":280,"v":0.64},{"p":"f","s":"w","t":300,"v":0.61},{"p":"f","s":"w","t":320,"v":0.63},{"p":"f","s":"w","t":340,"v":0.66},{"p":"f","s":"w","t":360,"v":0.62},{"p":"f","s":"w","t":380,"v":0.60},{"p":"f","s":"w","t":400,"v":0.63},{"p":"f","s":"w","t":420,"v":0.61},{"p":"f","s":"w","t":440,"v":0.64},{"p":"f","s":"w","t":460,"v":0.62},{"p":"f","s":"w","t":480,"v":0.65},{"p":"f","s":"w","t":500,"v":0.63},{"p":"f","s":"w","t":520,"v":0.61},{"p":"f","s":"w","t":540,"v":0.59},{"p":"f","s":"w","t":560,"v":0.56},{"p":"f","s":"w","t":580,"v":0.62},{"p":"f","s":"w","t":600,"v":0.76},{"p":"f","s":"w","t":620,"v":0.80},{"p":"f","s":"w","t":640,"v":0.83},{"p":"f","s":"w","t":660,"v":0.80},{"p":"f","s":"w","t":680,"v":0.84},{"p":"f","s":"w","t":700,"v":0.82},{"p":"f","s":"w","t":720,"v":0.86},{"p":"f","s":"w","t":740,"v":0.92},{"p":"f","s":"w","t":760,"v":0.88},{"p":"f","s":"w","t":780,"v":0.84},{"p":"f","s":"w","t":800,"v":0.87},{"p":"f","s":"w","t":820,"v":0.90},{"p":"f","s":"w","t":840,"v":0.88},{"p":"f","s":"w","t":860,"v":0.91},{"p":"f","s":"w","t":880,"v":0.93},{"p":"f","s":"w","t":900,"v":0.90},{"p":"f","s":"w","t":920,"v":0.94},{"p":"f","s":"w","t":940,"v":0.92},{"p":"f","s":"w","t":960,"v":0.95},{"p":"f","s":"w","t":980,"v":0.92},{"p":"f","s":"w","t":1000,"v":0.94},
{"p":"f","s":"e","t":0,"v":0.22},{"p":"f","s":"e","t":20,"v":0.38},{"p":"f","s":"e","t":40,"v":0.42},{"p":"f","s":"e","t":60,"v":0.48},{"p":"f","s":"e","t":80,"v":0.52},{"p":"f","s":"e","t":100,"v":0.64},{"p":"f","s":"e","t":120,"v":0.68},{"p":"f","s":"e","t":140,"v":0.70},{"p":"f","s":"e","t":160,"v":0.68},{"p":"f","s":"e","t":180,"v":0.72},{"p":"f","s":"e","t":200,"v":0.70},{"p":"f","s":"e","t":220,"v":0.73},{"p":"f","s":"e","t":240,"v":0.76},{"p":"f","s":"e","t":260,"v":0.72},{"p":"f","s":"e","t":280,"v":0.74},{"p":"f","s":"e","t":300,"v":0.71},{"p":"f","s":"e","t":320,"v":0.73},{"p":"f","s":"e","t":340,"v":0.70},{"p":"f","s":"e","t":360,"v":0.72},{"p":"f","s":"e","t":380,"v":0.74},{"p":"f","s":"e","t":400,"v":0.71},{"p":"f","s":"e","t":420,"v":0.69},{"p":"f","s":"e","t":440,"v":0.72},{"p":"f","s":"e","t":460,"v":0.70},{"p":"f","s":"e","t":480,"v":0.69},{"p":"f","s":"e","t":500,"v":0.67},{"p":"f","s":"e","t":520,"v":0.68},{"p":"f","s":"e","t":540,"v":0.66},{"p":"f","s":"e","t":560,"v":0.65},{"p":"f","s":"e","t":580,"v":0.64},{"p":"f","s":"e","t":600,"v":0.67},{"p":"f","s":"e","t":620,"v":0.69},{"p":"f","s":"e","t":640,"v":0.68},{"p":"f","s":"e","t":660,"v":0.70},{"p":"f","s":"e","t":680,"v":0.69},{"p":"f","s":"e","t":700,"v":0.71},{"p":"f","s":"e","t":720,"v":0.70},{"p":"f","s":"e","t":740,"v":0.73},{"p":"f","s":"e","t":760,"v":0.72},{"p":"f","s":"e","t":780,"v":0.75},{"p":"f","s":"e","t":800,"v":0.77},{"p":"f","s":"e","t":820,"v":0.76},{"p":"f","s":"e","t":840,"v":0.79},{"p":"f","s":"e","t":860,"v":0.80},{"p":"f","s":"e","t":880,"v":0.82},{"p":"f","s":"e","t":900,"v":0.81},{"p":"f","s":"e","t":920,"v":0.84},{"p":"f","s":"e","t":940,"v":0.83},{"p":"f","s":"e","t":960,"v":0.85},{"p":"f","s":"e","t":980,"v":0.86},{"p":"f","s":"e","t":1000,"v":0.87},
{"p":"f","s":"b","t":0,"v":0.14},{"p":"f","s":"b","t":20,"v":0.22},{"p":"f","s":"b","t":40,"v":0.30},{"p":"f","s":"b","t":60,"v":0.40},{"p":"f","s":"b","t":80,"v":0.50},{"p":"f","s":"b","t":100,"v":0.55},{"p":"f","s":"b","t":120,"v":0.57},{"p":"f","s":"b","t":140,"v":0.55},{"p":"f","s":"b","t":160,"v":0.60},{"p":"f","s":"b","t":180,"v":0.66},{"p":"f","s":"b","t":200,"v":0.74},{"p":"f","s":"b","t":220,"v":0.82},{"p":"f","s":"b","t":240,"v":0.86},{"p":"f","s":"b","t":260,"v":1.02},{"p":"f","s":"b","t":280,"v":0.95},{"p":"f","s":"b","t":300,"v":0.93},{"p":"f","s":"b","t":320,"v":0.96},{"p":"f","s":"b","t":340,"v":0.92},{"p":"f","s":"b","t":360,"v":0.97},{"p":"f","s":"b","t":380,"v":1.00},{"p":"f","s":"b","t":400,"v":0.94},{"p":"f","s":"b","t":420,"v":1.01},{"p":"f","s":"b","t":440,"v":0.96},{"p":"f","s":"b","t":460,"v":0.98},{"p":"f","s":"b","t":480,"v":0.95},{"p":"f","s":"b","t":500,"v":0.97},{"p":"f","s":"b","t":520,"v":0.90},{"p":"f","s":"b","t":540,"v":0.87},{"p":"f","s":"b","t":560,"v":0.86},{"p":"f","s":"b","t":580,"v":0.88},{"p":"f","s":"b","t":600,"v":0.93},{"p":"f","s":"b","t":620,"v":0.90},{"p":"f","s":"b","t":640,"v":0.87},{"p":"f","s":"b","t":660,"v":0.92},{"p":"f","s":"b","t":680,"v":0.89},{"p":"f","s":"b","t":700,"v":0.93},{"p":"f","s":"b","t":720,"v":0.91},{"p":"f","s":"b","t":740,"v":0.88},{"p":"f","s":"b","t":760,"v":0.92},{"p":"f","s":"b","t":780,"v":0.90},{"p":"f","s":"b","t":800,"v":0.94},{"p":"f","s":"b","t":820,"v":0.92},{"p":"f","s":"b","t":840,"v":0.96},{"p":"f","s":"b","t":860,"v":0.93},{"p":"f","s":"b","t":880,"v":0.95},{"p":"f","s":"b","t":900,"v":0.97},{"p":"f","s":"b","t":920,"v":0.94},{"p":"f","s":"b","t":940,"v":0.96},{"p":"f","s":"b","t":960,"v":0.93},{"p":"f","s":"b","t":980,"v":0.95},{"p":"f","s":"b","t":1000,"v":0.93},
{"p":"g","s":"w","t":0,"v":1.425},{"p":"g","s":"w","t":20,"v":1.415},{"p":"g","s":"w","t":40,"v":1.43},{"p":"g","s":"w","t":60,"v":1.41},{"p":"g","s":"w","t":80,"v":1.405},{"p":"g","s":"w","t":100,"v":1.415},{"p":"g","s":"w","t":120,"v":1.41},{"p":"g","s":"w","t":140,"v":1.425},{"p":"g","s":"w","t":160,"v":1.43},{"p":"g","s":"w","t":180,"v":1.425},{"p":"g","s":"w","t":200,"v":1.435},{"p":"g","s":"w","t":220,"v":1.43},{"p":"g","s":"w","t":240,"v":1.435},{"p":"g","s":"w","t":260,"v":1.43},{"p":"g","s":"w","t":280,"v":1.44},{"p":"g","s":"w","t":300,"v":1.435},{"p":"g","s":"w","t":320,"v":1.445},{"p":"g","s":"w","t":340,"v":1.44},{"p":"g","s":"w","t":360,"v":1.455},{"p":"g","s":"w","t":380,"v":1.43},{"p":"g","s":"w","t":400,"v":1.425},{"p":"g","s":"w","t":420,"v":1.445},{"p":"g","s":"w","t":440,"v":1.43},{"p":"g","s":"w","t":460,"v":1.44},{"p":"g","s":"w","t":480,"v":1.425},{"p":"g","s":"w","t":500,"v":1.435},{"p":"g","s":"w","t":520,"v":1.42},{"p":"g","s":"w","t":540,"v":1.44},{"p":"g","s":"w","t":560,"v":1.425},{"p":"g","s":"w","t":580,"v":1.43},{"p":"g","s":"w","t":600,"v":1.42},{"p":"g","s":"w","t":620,"v":1.435},{"p":"g","s":"w","t":640,"v":1.425},{"p":"g","s":"w","t":660,"v":1.43},{"p":"g","s":"w","t":680,"v":1.415},{"p":"g","s":"w","t":700,"v":1.425},{"p":"g","s":"w","t":720,"v":1.42},{"p":"g","s":"w","t":740,"v":1.43},{"p":"g","s":"w","t":760,"v":1.415},{"p":"g","s":"w","t":780,"v":1.42},{"p":"g","s":"w","t":800,"v":1.41},{"p":"g","s":"w","t":820,"v":1.405},{"p":"g","s":"w","t":840,"v":1.415},{"p":"g","s":"w","t":860,"v":1.43},{"p":"g","s":"w","t":880,"v":1.435},{"p":"g","s":"w","t":900,"v":1.425},{"p":"g","s":"w","t":920,"v":1.44},{"p":"g","s":"w","t":940,"v":1.43},{"p":"g","s":"w","t":960,"v":1.42},{"p":"g","s":"w","t":980,"v":1.435},{"p":"g","s":"w","t":1000,"v":1.42},
{"p":"g","s":"e","t":0,"v":1.43},{"p":"g","s":"e","t":20,"v":1.42},{"p":"g","s":"e","t":40,"v":1.425},{"p":"g","s":"e","t":60,"v":1.415},{"p":"g","s":"e","t":80,"v":1.40},{"p":"g","s":"e","t":100,"v":1.395},{"p":"g","s":"e","t":120,"v":1.39},{"p":"g","s":"e","t":140,"v":1.40},{"p":"g","s":"e","t":160,"v":1.415},{"p":"g","s":"e","t":180,"v":1.425},{"p":"g","s":"e","t":200,"v":1.42},{"p":"g","s":"e","t":220,"v":1.415},{"p":"g","s":"e","t":240,"v":1.43},{"p":"g","s":"e","t":260,"v":1.44},{"p":"g","s":"e","t":280,"v":1.425},{"p":"g","s":"e","t":300,"v":1.415},{"p":"g","s":"e","t":320,"v":1.43},{"p":"g","s":"e","t":340,"v":1.40},{"p":"g","s":"e","t":360,"v":1.395},{"p":"g","s":"e","t":380,"v":1.405},{"p":"g","s":"e","t":400,"v":1.39},{"p":"g","s":"e","t":420,"v":1.40},{"p":"g","s":"e","t":440,"v":1.395},{"p":"g","s":"e","t":460,"v":1.405},{"p":"g","s":"e","t":480,"v":1.40},{"p":"g","s":"e","t":500,"v":1.395},{"p":"g","s":"e","t":520,"v":1.405},{"p":"g","s":"e","t":540,"v":1.40},{"p":"g","s":"e","t":560,"v":1.41},{"p":"g","s":"e","t":580,"v":1.40},{"p":"g","s":"e","t":600,"v":1.405},{"p":"g","s":"e","t":620,"v":1.395},{"p":"g","s":"e","t":640,"v":1.40},{"p":"g","s":"e","t":660,"v":1.41},{"p":"g","s":"e","t":680,"v":1.405},{"p":"g","s":"e","t":700,"v":1.40},{"p":"g","s":"e","t":720,"v":1.41},{"p":"g","s":"e","t":740,"v":1.405},{"p":"g","s":"e","t":760,"v":1.40},{"p":"g","s":"e","t":780,"v":1.41},{"p":"g","s":"e","t":800,"v":1.405},{"p":"g","s":"e","t":820,"v":1.415},{"p":"g","s":"e","t":840,"v":1.41},{"p":"g","s":"e","t":860,"v":1.40},{"p":"g","s":"e","t":880,"v":1.405},{"p":"g","s":"e","t":900,"v":1.395},{"p":"g","s":"e","t":920,"v":1.39},{"p":"g","s":"e","t":940,"v":1.395},{"p":"g","s":"e","t":960,"v":1.385},{"p":"g","s":"e","t":980,"v":1.39},{"p":"g","s":"e","t":1000,"v":1.395},
{"p":"g","s":"b","t":0,"v":1.43},{"p":"g","s":"b","t":20,"v":1.425},{"p":"g","s":"b","t":40,"v":1.44},{"p":"g","s":"b","t":60,"v":1.43},{"p":"g","s":"b","t":80,"v":1.435},{"p":"g","s":"b","t":100,"v":1.44},{"p":"g","s":"b","t":120,"v":1.43},{"p":"g","s":"b","t":140,"v":1.425},{"p":"g","s":"b","t":160,"v":1.42},{"p":"g","s":"b","t":180,"v":1.415},{"p":"g","s":"b","t":200,"v":1.42},{"p":"g","s":"b","t":220,"v":1.41},{"p":"g","s":"b","t":240,"v":1.415},{"p":"g","s":"b","t":260,"v":1.42},{"p":"g","s":"b","t":280,"v":1.41},{"p":"g","s":"b","t":300,"v":1.415},{"p":"g","s":"b","t":320,"v":1.41},{"p":"g","s":"b","t":340,"v":1.415},{"p":"g","s":"b","t":360,"v":1.41},{"p":"g","s":"b","t":380,"v":1.405},{"p":"g","s":"b","t":400,"v":1.40},{"p":"g","s":"b","t":420,"v":1.41},{"p":"g","s":"b","t":440,"v":1.405},{"p":"g","s":"b","t":460,"v":1.40},{"p":"g","s":"b","t":480,"v":1.405},{"p":"g","s":"b","t":500,"v":1.41},{"p":"g","s":"b","t":520,"v":1.405},{"p":"g","s":"b","t":540,"v":1.40},{"p":"g","s":"b","t":560,"v":1.405},{"p":"g","s":"b","t":580,"v":1.41},{"p":"g","s":"b","t":600,"v":1.405},{"p":"g","s":"b","t":620,"v":1.40},{"p":"g","s":"b","t":640,"v":1.405},{"p":"g","s":"b","t":660,"v":1.41},{"p":"g","s":"b","t":680,"v":1.40},{"p":"g","s":"b","t":700,"v":1.405},{"p":"g","s":"b","t":720,"v":1.41},{"p":"g","s":"b","t":740,"v":1.405},{"p":"g","s":"b","t":760,"v":1.41},{"p":"g","s":"b","t":780,"v":1.405},{"p":"g","s":"b","t":800,"v":1.41},{"p":"g","s":"b","t":820,"v":1.405},{"p":"g","s":"b","t":840,"v":1.41},{"p":"g","s":"b","t":860,"v":1.405},{"p":"g","s":"b","t":880,"v":1.40},{"p":"g","s":"b","t":900,"v":1.395},{"p":"g","s":"b","t":920,"v":1.40},{"p":"g","s":"b","t":940,"v":1.41},{"p":"g","s":"b","t":960,"v":1.405},{"p":"g","s":"b","t":980,"v":1.41},{"p":"g","s":"b","t":1000,"v":1.415},
{"p":"h","s":"w","t":0,"v":1.455},{"p":"h","s":"w","t":20,"v":1.43},{"p":"h","s":"w","t":40,"v":1.42},{"p":"h","s":"w","t":60,"v":1.415},{"p":"h","s":"w","t":80,"v":1.43},{"p":"h","s":"w","t":100,"v":1.445},{"p":"h","s":"w","t":120,"v":1.47},{"p":"h","s":"w","t":140,"v":1.485},{"p":"h","s":"w","t":160,"v":1.44},{"p":"h","s":"w","t":180,"v":1.41},{"p":"h","s":"w","t":200,"v":1.405},{"p":"h","s":"w","t":220,"v":1.425},{"p":"h","s":"w","t":240,"v":1.44},{"p":"h","s":"w","t":260,"v":1.42},{"p":"h","s":"w","t":280,"v":1.40},{"p":"h","s":"w","t":300,"v":1.39},{"p":"h","s":"w","t":320,"v":1.405},{"p":"h","s":"w","t":340,"v":1.395},{"p":"h","s":"w","t":360,"v":1.40},{"p":"h","s":"w","t":380,"v":1.39},{"p":"h","s":"w","t":400,"v":1.41},{"p":"h","s":"w","t":420,"v":1.43},{"p":"h","s":"w","t":440,"v":1.455},{"p":"h","s":"w","t":460,"v":1.45},{"p":"h","s":"w","t":480,"v":1.44},{"p":"h","s":"w","t":500,"v":1.43},{"p":"h","s":"w","t":520,"v":1.42},{"p":"h","s":"w","t":540,"v":1.435},{"p":"h","s":"w","t":560,"v":1.445},{"p":"h","s":"w","t":580,"v":1.455},{"p":"h","s":"w","t":600,"v":1.465},{"p":"h","s":"w","t":620,"v":1.45},{"p":"h","s":"w","t":640,"v":1.46},{"p":"h","s":"w","t":660,"v":1.43},{"p":"h","s":"w","t":680,"v":1.445},{"p":"h","s":"w","t":700,"v":1.455},{"p":"h","s":"w","t":720,"v":1.47},{"p":"h","s":"w","t":740,"v":1.455},{"p":"h","s":"w","t":760,"v":1.46},{"p":"h","s":"w","t":780,"v":1.45},{"p":"h","s":"w","t":800,"v":1.465},{"p":"h","s":"w","t":820,"v":1.45},{"p":"h","s":"w","t":840,"v":1.44},{"p":"h","s":"w","t":860,"v":1.455},{"p":"h","s":"w","t":880,"v":1.465},{"p":"h","s":"w","t":900,"v":1.47},{"p":"h","s":"w","t":920,"v":1.45},{"p":"h","s":"w","t":940,"v":1.43},{"p":"h","s":"w","t":960,"v":1.44},{"p":"h","s":"w","t":980,"v":1.45},{"p":"h","s":"w","t":1000,"v":1.46},
{"p":"h","s":"e","t":0,"v":1.435},{"p":"h","s":"e","t":20,"v":1.425},{"p":"h","s":"e","t":40,"v":1.44},{"p":"h","s":"e","t":60,"v":1.455},{"p":"h","s":"e","t":80,"v":1.46},{"p":"h","s":"e","t":100,"v":1.44},{"p":"h","s":"e","t":120,"v":1.435},{"p":"h","s":"e","t":140,"v":1.42},{"p":"h","s":"e","t":160,"v":1.425},{"p":"h","s":"e","t":180,"v":1.43},{"p":"h","s":"e","t":200,"v":1.42},{"p":"h","s":"e","t":220,"v":1.43},{"p":"h","s":"e","t":240,"v":1.425},{"p":"h","s":"e","t":260,"v":1.41},{"p":"h","s":"e","t":280,"v":1.395},{"p":"h","s":"e","t":300,"v":1.385},{"p":"h","s":"e","t":320,"v":1.40},{"p":"h","s":"e","t":340,"v":1.405},{"p":"h","s":"e","t":360,"v":1.395},{"p":"h","s":"e","t":380,"v":1.40},{"p":"h","s":"e","t":400,"v":1.41},{"p":"h","s":"e","t":420,"v":1.395},{"p":"h","s":"e","t":440,"v":1.40},{"p":"h","s":"e","t":460,"v":1.405},{"p":"h","s":"e","t":480,"v":1.39},{"p":"h","s":"e","t":500,"v":1.40},{"p":"h","s":"e","t":520,"v":1.41},{"p":"h","s":"e","t":540,"v":1.415},{"p":"h","s":"e","t":560,"v":1.405},{"p":"h","s":"e","t":580,"v":1.41},{"p":"h","s":"e","t":600,"v":1.40},{"p":"h","s":"e","t":620,"v":1.415},{"p":"h","s":"e","t":640,"v":1.405},{"p":"h","s":"e","t":660,"v":1.41},{"p":"h","s":"e","t":680,"v":1.40},{"p":"h","s":"e","t":700,"v":1.395},{"p":"h","s":"e","t":720,"v":1.405},{"p":"h","s":"e","t":740,"v":1.40},{"p":"h","s":"e","t":760,"v":1.395},{"p":"h","s":"e","t":780,"v":1.39},{"p":"h","s":"e","t":800,"v":1.385},{"p":"h","s":"e","t":820,"v":1.39},{"p":"h","s":"e","t":840,"v":1.40},{"p":"h","s":"e","t":860,"v":1.405},{"p":"h","s":"e","t":880,"v":1.395},{"p":"h","s":"e","t":900,"v":1.40},{"p":"h","s":"e","t":920,"v":1.385},{"p":"h","s":"e","t":940,"v":1.38},{"p":"h","s":"e","t":960,"v":1.395},{"p":"h","s":"e","t":980,"v":1.405},{"p":"h","s":"e","t":1000,"v":1.395},
{"p":"h","s":"b","t":0,"v":1.425},{"p":"h","s":"b","t":20,"v":1.405},{"p":"h","s":"b","t":40,"v":1.395},{"p":"h","s":"b","t":60,"v":1.42},{"p":"h","s":"b","t":80,"v":1.415},{"p":"h","s":"b","t":100,"v":1.43},{"p":"h","s":"b","t":120,"v":1.42},{"p":"h","s":"b","t":140,"v":1.445},{"p":"h","s":"b","t":160,"v":1.46},{"p":"h","s":"b","t":180,"v":1.455},{"p":"h","s":"b","t":200,"v":1.465},{"p":"h","s":"b","t":220,"v":1.47},{"p":"h","s":"b","t":240,"v":1.46},{"p":"h","s":"b","t":260,"v":1.465},{"p":"h","s":"b","t":280,"v":1.455},{"p":"h","s":"b","t":300,"v":1.47},{"p":"h","s":"b","t":320,"v":1.46},{"p":"h","s":"b","t":340,"v":1.45},{"p":"h","s":"b","t":360,"v":1.455},{"p":"h","s":"b","t":380,"v":1.465},{"p":"h","s":"b","t":400,"v":1.43},{"p":"h","s":"b","t":420,"v":1.435},{"p":"h","s":"b","t":440,"v":1.42},{"p":"h","s":"b","t":460,"v":1.445},{"p":"h","s":"b","t":480,"v":1.465},{"p":"h","s":"b","t":500,"v":1.47},{"p":"h","s":"b","t":520,"v":1.46},{"p":"h","s":"b","t":540,"v":1.475},{"p":"h","s":"b","t":560,"v":1.465},{"p":"h","s":"b","t":580,"v":1.47},{"p":"h","s":"b","t":600,"v":1.48},{"p":"h","s":"b","t":620,"v":1.46},{"p":"h","s":"b","t":640,"v":1.47},{"p":"h","s":"b","t":660,"v":1.475},{"p":"h","s":"b","t":680,"v":1.46},{"p":"h","s":"b","t":700,"v":1.465},{"p":"h","s":"b","t":720,"v":1.475},{"p":"h","s":"b","t":740,"v":1.455},{"p":"h","s":"b","t":760,"v":1.47},{"p":"h","s":"b","t":780,"v":1.46},{"p":"h","s":"b","t":800,"v":1.45},{"p":"h","s":"b","t":820,"v":1.455},{"p":"h","s":"b","t":840,"v":1.465},{"p":"h","s":"b","t":860,"v":1.48},{"p":"h","s":"b","t":880,"v":1.49},{"p":"h","s":"b","t":900,"v":1.51},{"p":"h","s":"b","t":920,"v":1.545},{"p":"h","s":"b","t":940,"v":1.53},{"p":"h","s":"b","t":960,"v":1.57},{"p":"h","s":"b","t":980,"v":1.595},{"p":"h","s":"b","t":1000,"v":1.505},
{"p":"i","s":"w","t":0,"v":1.435},{"p":"i","s":"w","t":20,"v":1.415},{"p":"i","s":"w","t":40,"v":1.41},{"p":"i","s":"w","t":60,"v":1.405},{"p":"i","s":"w","t":80,"v":1.42},{"p":"i","s":"w","t":100,"v":1.415},{"p":"i","s":"w","t":120,"v":1.435},{"p":"i","s":"w","t":140,"v":1.43},{"p":"i","s":"w","t":160,"v":1.38},{"p":"i","s":"w","t":180,"v":1.405},{"p":"i","s":"w","t":200,"v":1.40},{"p":"i","s":"w","t":220,"v":1.395},{"p":"i","s":"w","t":240,"v":1.405},{"p":"i","s":"w","t":260,"v":1.40},{"p":"i","s":"w","t":280,"v":1.395},{"p":"i","s":"w","t":300,"v":1.405},{"p":"i","s":"w","t":320,"v":1.40},{"p":"i","s":"w","t":340,"v":1.415},{"p":"i","s":"w","t":360,"v":1.425},{"p":"i","s":"w","t":380,"v":1.41},{"p":"i","s":"w","t":400,"v":1.405},{"p":"i","s":"w","t":420,"v":1.395},{"p":"i","s":"w","t":440,"v":1.40},{"p":"i","s":"w","t":460,"v":1.405},{"p":"i","s":"w","t":480,"v":1.395},{"p":"i","s":"w","t":500,"v":1.38},{"p":"i","s":"w","t":520,"v":1.39},{"p":"i","s":"w","t":540,"v":1.41},{"p":"i","s":"w","t":560,"v":1.42},{"p":"i","s":"w","t":580,"v":1.415},{"p":"i","s":"w","t":600,"v":1.425},{"p":"i","s":"w","t":620,"v":1.42},{"p":"i","s":"w","t":640,"v":1.41},{"p":"i","s":"w","t":660,"v":1.425},{"p":"i","s":"w","t":680,"v":1.42},{"p":"i","s":"w","t":700,"v":1.43},{"p":"i","s":"w","t":720,"v":1.42},{"p":"i","s":"w","t":740,"v":1.425},{"p":"i","s":"w","t":760,"v":1.41},{"p":"i","s":"w","t":780,"v":1.40},{"p":"i","s":"w","t":800,"v":1.39},{"p":"i","s":"w","t":820,"v":1.405},{"p":"i","s":"w","t":840,"v":1.42},{"p":"i","s":"w","t":860,"v":1.41},{"p":"i","s":"w","t":880,"v":1.425},{"p":"i","s":"w","t":900,"v":1.415},{"p":"i","s":"w","t":920,"v":1.42},{"p":"i","s":"w","t":940,"v":1.41},{"p":"i","s":"w","t":960,"v":1.44},{"p":"i","s":"w","t":980,"v":1.42},{"p":"i","s":"w","t":1000,"v":1.425},
{"p":"i","s":"e","t":0,"v":1.44},{"p":"i","s":"e","t":20,"v":1.45},{"p":"i","s":"e","t":40,"v":1.485},{"p":"i","s":"e","t":60,"v":1.44},{"p":"i","s":"e","t":80,"v":1.435},{"p":"i","s":"e","t":100,"v":1.455},{"p":"i","s":"e","t":120,"v":1.46},{"p":"i","s":"e","t":140,"v":1.45},{"p":"i","s":"e","t":160,"v":1.465},{"p":"i","s":"e","t":180,"v":1.445},{"p":"i","s":"e","t":200,"v":1.44},{"p":"i","s":"e","t":220,"v":1.455},{"p":"i","s":"e","t":240,"v":1.47},{"p":"i","s":"e","t":260,"v":1.46},{"p":"i","s":"e","t":280,"v":1.465},{"p":"i","s":"e","t":300,"v":1.475},{"p":"i","s":"e","t":320,"v":1.455},{"p":"i","s":"e","t":340,"v":1.49},{"p":"i","s":"e","t":360,"v":1.52},{"p":"i","s":"e","t":380,"v":1.525},{"p":"i","s":"e","t":400,"v":1.48},{"p":"i","s":"e","t":420,"v":1.465},{"p":"i","s":"e","t":440,"v":1.47},{"p":"i","s":"e","t":460,"v":1.455},{"p":"i","s":"e","t":480,"v":1.465},{"p":"i","s":"e","t":500,"v":1.45},{"p":"i","s":"e","t":520,"v":1.44},{"p":"i","s":"e","t":540,"v":1.425},{"p":"i","s":"e","t":560,"v":1.435},{"p":"i","s":"e","t":580,"v":1.445},{"p":"i","s":"e","t":600,"v":1.455},{"p":"i","s":"e","t":620,"v":1.45},{"p":"i","s":"e","t":640,"v":1.455},{"p":"i","s":"e","t":660,"v":1.445},{"p":"i","s":"e","t":680,"v":1.45},{"p":"i","s":"e","t":700,"v":1.44},{"p":"i","s":"e","t":720,"v":1.435},{"p":"i","s":"e","t":740,"v":1.445},{"p":"i","s":"e","t":760,"v":1.46},{"p":"i","s":"e","t":780,"v":1.465},{"p":"i","s":"e","t":800,"v":1.47},{"p":"i","s":"e","t":820,"v":1.475},{"p":"i","s":"e","t":840,"v":1.455},{"p":"i","s":"e","t":860,"v":1.425},{"p":"i","s":"e","t":880,"v":1.415},{"p":"i","s":"e","t":900,"v":1.41},{"p":"i","s":"e","t":920,"v":1.40},{"p":"i","s":"e","t":940,"v":1.395},{"p":"i","s":"e","t":960,"v":1.40},{"p":"i","s":"e","t":980,"v":1.39},{"p":"i","s":"e","t":1000,"v":1.395},
{"p":"i","s":"b","t":0,"v":1.44},{"p":"i","s":"b","t":20,"v":1.445},{"p":"i","s":"b","t":40,"v":1.43},{"p":"i","s":"b","t":60,"v":1.445},{"p":"i","s":"b","t":80,"v":1.45},{"p":"i","s":"b","t":100,"v":1.48},{"p":"i","s":"b","t":120,"v":1.49},{"p":"i","s":"b","t":140,"v":1.50},{"p":"i","s":"b","t":160,"v":1.525},{"p":"i","s":"b","t":180,"v":1.48},{"p":"i","s":"b","t":200,"v":1.47},{"p":"i","s":"b","t":220,"v":1.49},{"p":"i","s":"b","t":240,"v":1.475},{"p":"i","s":"b","t":260,"v":1.595},{"p":"i","s":"b","t":280,"v":1.47},{"p":"i","s":"b","t":300,"v":1.48},{"p":"i","s":"b","t":320,"v":1.465},{"p":"i","s":"b","t":340,"v":1.49},{"p":"i","s":"b","t":360,"v":1.515},{"p":"i","s":"b","t":380,"v":1.46},{"p":"i","s":"b","t":400,"v":1.445},{"p":"i","s":"b","t":420,"v":1.44},{"p":"i","s":"b","t":440,"v":1.435},{"p":"i","s":"b","t":460,"v":1.45},{"p":"i","s":"b","t":480,"v":1.43},{"p":"i","s":"b","t":500,"v":1.445},{"p":"i","s":"b","t":520,"v":1.475},{"p":"i","s":"b","t":540,"v":1.43},{"p":"i","s":"b","t":560,"v":1.42},{"p":"i","s":"b","t":580,"v":1.415},{"p":"i","s":"b","t":600,"v":1.425},{"p":"i","s":"b","t":620,"v":1.42},{"p":"i","s":"b","t":640,"v":1.43},{"p":"i","s":"b","t":660,"v":1.41},{"p":"i","s":"b","t":680,"v":1.40},{"p":"i","s":"b","t":700,"v":1.41},{"p":"i","s":"b","t":720,"v":1.42},{"p":"i","s":"b","t":740,"v":1.435},{"p":"i","s":"b","t":760,"v":1.43},{"p":"i","s":"b","t":780,"v":1.42},{"p":"i","s":"b","t":800,"v":1.44},{"p":"i","s":"b","t":820,"v":1.45},{"p":"i","s":"b","t":840,"v":1.455},{"p":"i","s":"b","t":860,"v":1.445},{"p":"i","s":"b","t":880,"v":1.43},{"p":"i","s":"b","t":900,"v":1.415},{"p":"i","s":"b","t":920,"v":1.41},{"p":"i","s":"b","t":940,"v":1.40},{"p":"i","s":"b","t":960,"v":1.405},{"p":"i","s":"b","t":980,"v":1.41},{"p":"i","s":"b","t":1000,"v":1.42}
]},
"concat": [
{"width":192,"height":142,"data":{"name":"d"},"transform":[{"filter":"datum.p=='a'"}],"title":{"text":"(a)"},
 "mark":{"type":"line","strokeWidth":0.6},"encoding":{
  "x":{"field":"t","type":"quantitative","scale":{"domain":[0,1000],"nice":false},"axis":{"values":[0,200,400,600,800,1000],"labels":false,"title":null,"labelOverlap":false}},
  "y":{"field":"v","type":"quantitative","scale":{"domain":[0,1],"nice":false,"zero":false},"axis":{"values":[0,0.2,0.4,0.6,0.8,1],"format":"~g","title":"Fraction of Native Contacts","labelOverlap":false}},
  "color":{"field":"s","type":"nominal","scale":{"domain":["w","e","b"],"range":["#000000","#ff0000","#0000ff"]},"legend":{"orient":"none","legendX":6,"legendY":79,"title":null,"labelExpr":"datum.label=='w'?'H2O':datum.label=='e'?'25%wt [EMIM][EtSO₄]':'25%wt [EMIM][Et₂PO₄]'","symbolType":"stroke","symbolSize":400,"symbolStrokeWidth":1,"labelFontSize":11,"labelFont":"Liberation Sans","labelColor":"#000000","strokeColor":"#262626","fillColor":"#ffffff","padding":2,"rowPadding":-3,"labelOffset":5}}}},
{"width":192,"height":142,"data":{"name":"d"},"transform":[{"filter":"datum.p=='b'"}],"title":{"text":"(b)"},
 "mark":{"type":"line","strokeWidth":0.6},"encoding":{
  "x":{"field":"t","type":"quantitative","scale":{"domain":[0,1000],"nice":false},"axis":{"values":[0,200,400,600,800,1000],"labels":false,"title":null}},
  "y":{"field":"v","type":"quantitative","scale":{"domain":[0,1],"nice":false,"zero":false},"axis":{"values":[0,0.2,0.4,0.6,0.8,1],"labels":false,"title":null}},
  "color":{"field":"s","type":"nominal","scale":{"domain":["w","e","b"],"range":["#000000","#ff0000","#0000ff"]},"legend":null}}},
{"width":192,"height":142,"data":{"name":"d"},"transform":[{"filter":"datum.p=='c'"}],"title":{"text":"(c)"},
 "mark":{"type":"line","strokeWidth":0.6},"encoding":{
  "x":{"field":"t","type":"quantitative","scale":{"domain":[0,1000],"nice":false},"axis":{"values":[0,200,400,600,800,1000],"labels":false,"title":null}},
  "y":{"field":"v","type":"quantitative","scale":{"domain":[0,1],"nice":false,"zero":false},"axis":{"values":[0,0.2,0.4,0.6,0.8,1],"labels":false,"title":null}},
  "color":{"field":"s","type":"nominal","scale":{"domain":["w","e","b"],"range":["#000000","#ff0000","#0000ff"]},"legend":null}}},
{"width":192,"height":142,"data":{"name":"d"},"transform":[{"filter":"datum.p=='d'"}],"title":{"text":"(d)"},
 "mark":{"type":"line","strokeWidth":0.6},"encoding":{
  "x":{"field":"t","type":"quantitative","scale":{"domain":[0,1000],"nice":false},"axis":{"values":[0,200,400,600,800,1000],"labels":false,"title":null}},
  "y":{"field":"v","type":"quantitative","scale":{"domain":[0,1.5],"nice":false,"zero":false},"axis":{"values":[0,0.5,1,1.5],"format":"~g","title":"RMSD (nm)","labelOverlap":false}},
  "color":{"field":"s","type":"nominal","scale":{"domain":["w","e","b"],"range":["#000000","#ff0000","#0000ff"]},"legend":null}}},
{"width":192,"height":142,"data":{"name":"d"},"transform":[{"filter":"datum.p=='e'"}],"title":{"text":"(e)"},
 "mark":{"type":"line","strokeWidth":0.6},"encoding":{
  "x":{"field":"t","type":"quantitative","scale":{"domain":[0,1000],"nice":false},"axis":{"values":[0,200,400,600,800,1000],"labels":false,"title":null}},
  "y":{"field":"v","type":"quantitative","scale":{"domain":[0,1.5],"nice":false,"zero":false},"axis":{"values":[0,0.5,1,1.5],"labels":false,"title":null}},
  "color":{"field":"s","type":"nominal","scale":{"domain":["w","e","b"],"range":["#000000","#ff0000","#0000ff"]},"legend":null}}},
{"width":192,"height":142,"data":{"name":"d"},"transform":[{"filter":"datum.p=='f'"}],"title":{"text":"(f)"},
 "mark":{"type":"line","strokeWidth":0.6},"encoding":{
  "x":{"field":"t","type":"quantitative","scale":{"domain":[0,1000],"nice":false},"axis":{"values":[0,200,400,600,800,1000],"labels":false,"title":null}},
  "y":{"field":"v","type":"quantitative","scale":{"domain":[0,1.5],"nice":false,"zero":false},"axis":{"values":[0,0.5,1,1.5],"labels":false,"title":null}},
  "color":{"field":"s","type":"nominal","scale":{"domain":["w","e","b"],"range":["#000000","#ff0000","#0000ff"]},"legend":null}}},
{"width":192,"height":142,"data":{"name":"d"},"transform":[{"filter":"datum.p=='g'"}],"title":{"text":"(g)"},
 "mark":{"type":"line","strokeWidth":0.6},"encoding":{
  "x":{"field":"t","type":"quantitative","scale":{"domain":[0,1000],"nice":false},"axis":{"values":[0,200,400,600,800,1000],"format":"d","title":"Time (ns)","labelOverlap":false}},
  "y":{"field":"v","type":"quantitative","scale":{"domain":[1.35,1.6],"nice":false,"zero":false},"axis":{"values":[1.35,1.4,1.45,1.5,1.55,1.6],"format":"~g","title":"Rg (nm)","labelOverlap":false}},
  "color":{"field":"s","type":"nominal","scale":{"domain":["w","e","b"],"range":["#000000","#ff0000","#0000ff"]},"legend":null}}},
{"width":192,"height":142,"data":{"name":"d"},"transform":[{"filter":"datum.p=='h'"}],"title":{"text":"(h)"},
 "mark":{"type":"line","strokeWidth":0.6},"encoding":{
  "x":{"field":"t","type":"quantitative","scale":{"domain":[0,1000],"nice":false},"axis":{"values":[0,200,400,600,800,1000],"format":"d","title":"Time (ns)","labelOverlap":false}},
  "y":{"field":"v","type":"quantitative","scale":{"domain":[1.35,1.6],"nice":false,"zero":false},"axis":{"values":[1.35,1.4,1.45,1.5,1.55,1.6],"labels":false,"title":null}},
  "color":{"field":"s","type":"nominal","scale":{"domain":["w","e","b"],"range":["#000000","#ff0000","#0000ff"]},"legend":null}}},
{"width":192,"height":142,"data":{"name":"d"},"transform":[{"filter":"datum.p=='i'"}],"title":{"text":"(i)"},
 "mark":{"type":"line","strokeWidth":0.6},"encoding":{
  "x":{"field":"t","type":"quantitative","scale":{"domain":[0,1000],"nice":false},"axis":{"values":[0,200,400,600,800,1000],"format":"d","title":"Time (ns)","labelOverlap":false}},
  "y":{"field":"v","type":"quantitative","scale":{"domain":[1.35,1.6],"nice":false,"zero":false},"axis":{"values":[1.35,1.4,1.45,1.5,1.55,1.6],"labels":false,"title":null}},
  "color":{"field":"s","type":"nominal","scale":{"domain":["w","e","b"],"range":["#000000","#ff0000","#0000ff"]},"legend":null}}}
],
"config": {
 "font": "Liberation Sans",
 "view": {"stroke": "#8c8c8c", "strokeWidth": 0.8},
 "title": {"anchor": "start", "orient": "top", "frame": "group", "offset": -19, "dx": 8, "baseline": "top", "fontSize": 9, "fontWeight": "normal", "font": "Liberation Sans", "color": "#000000"},
 "axis": {"grid": true, "gridColor": "#e4e4e4", "gridWidth": 0.7, "domain": false, "ticks": false, "labelOverlap": false, "labelFontSize": 8, "labelColor": "#262626", "labelFont": "Liberation Sans", "titleFont": "Liberation Sans", "titleFontSize": 11, "titleFontWeight": "normal", "titleColor": "#262626", "labelFlush": false, "labelPadding": 5, "titlePadding": 0},
 "axisX": {"labelPadding": 2, "titlePadding": 3}
}
}
